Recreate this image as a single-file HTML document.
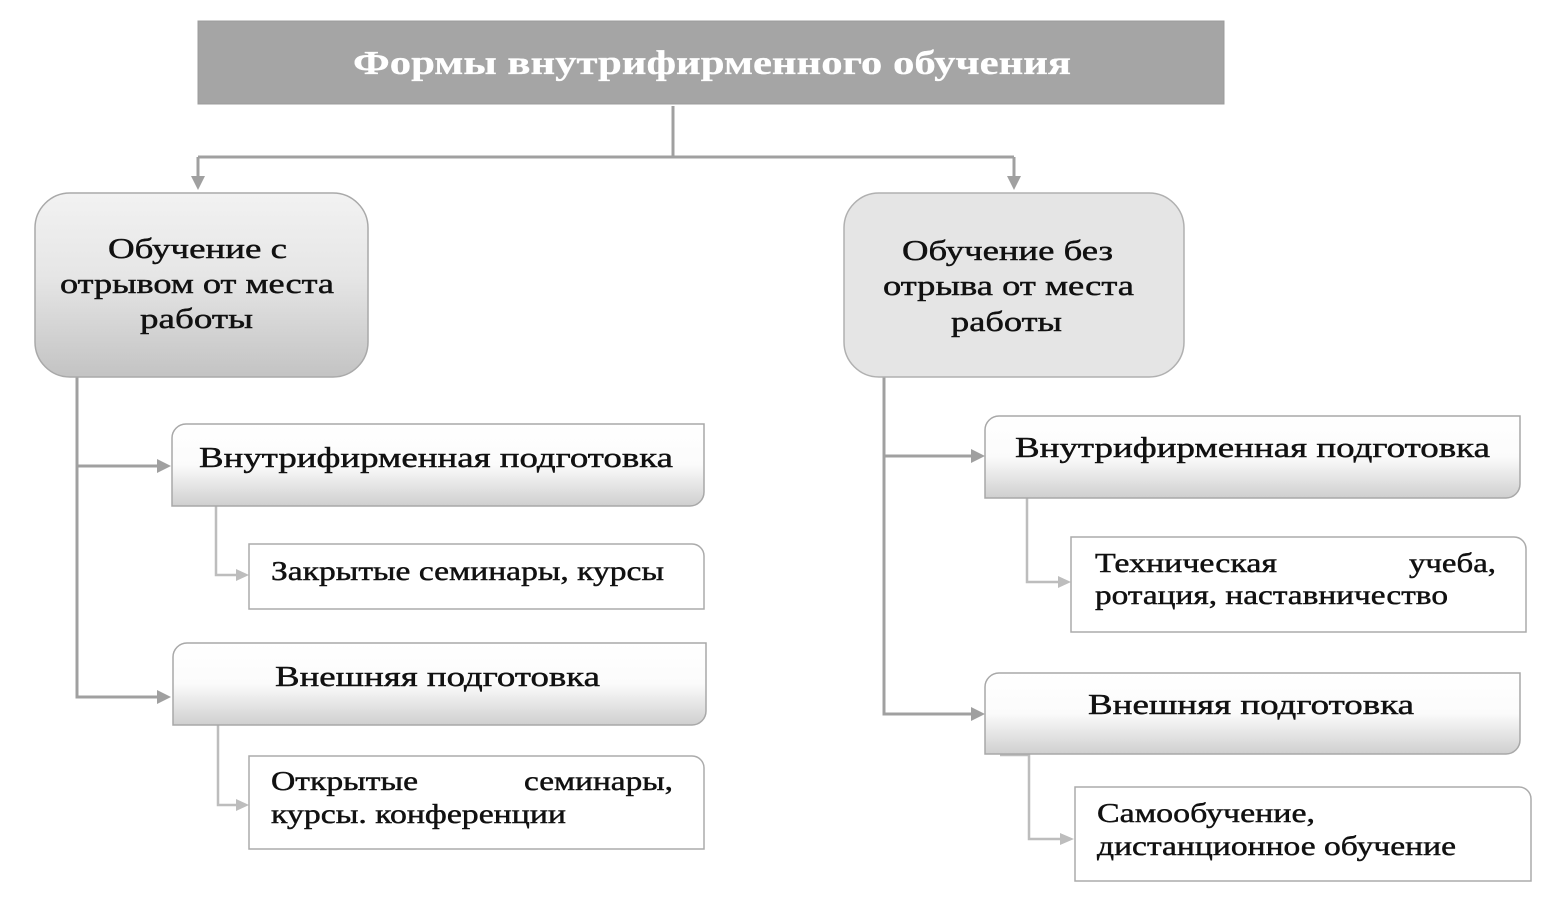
<!DOCTYPE html>
<html>
<head>
<meta charset="utf-8">
<style>
html,body{margin:0;padding:0;background:#fff;}
svg{display:block;}
text{font-family:"Liberation Serif","DejaVu Serif",serif;fill:#111;}
.t{stroke:#111;stroke-width:0.45;}
</style>
</head>
<body>
<svg width="1554" height="908" viewBox="0 0 1554 908" xmlns="http://www.w3.org/2000/svg">
<defs>
<linearGradient id="gBig" x1="0" y1="0" x2="0" y2="1">
<stop offset="0" stop-color="#f2f2f2"/>
<stop offset="0.45" stop-color="#e6e6e6"/>
<stop offset="1" stop-color="#c3c3c3"/>
</linearGradient>
<linearGradient id="gHead" x1="0" y1="0" x2="0" y2="1">
<stop offset="0" stop-color="#ffffff"/>
<stop offset="0.5" stop-color="#fbfbfb"/>
<stop offset="1" stop-color="#cfcfcf"/>
</linearGradient>
</defs>
<rect x="0" y="0" width="1554" height="908" fill="#fff"/>

<!-- Title -->
<rect x="198" y="21" width="1026" height="83" fill="#a5a5a5" stroke="#9c9c9c" stroke-width="1"/>
<text x="353" y="74" font-size="34" font-weight="bold" style="fill:#fff;stroke:#fff;stroke-width:0.3" textLength="718" lengthAdjust="spacingAndGlyphs">Формы внутрифирменного обучения</text>

<!-- main connectors -->
<g stroke="#a0a0a0" stroke-width="3" fill="none">
<path d="M673,106 V157"/>
<path d="M198,157 H1014"/>
<path d="M198,157 V178"/>
<path d="M1014,157 V178"/>
<path d="M77,377 V697 H158"/>
<path d="M77,466 H158"/>
<path d="M884,377 V714 H972"/>
<path d="M884,456 H972"/>
</g>
<g fill="#a0a0a0">
<polygon points="191,176 205,176 198,190"/>
<polygon points="1007,176 1021,176 1014,190"/>
<polygon points="157,459 157,473 171,466"/>
<polygon points="157,690 157,704 171,697"/>
<polygon points="971,449 971,463 985,456"/>
<polygon points="971,707 971,721 985,714"/>
</g>

<!-- sub connectors -->
<g stroke="#bdbdbd" stroke-width="2.5" fill="none">
<path d="M216,506 V575 H237"/>
<path d="M218,725 V805 H237"/>
<path d="M1027,498 V582 H1059"/>
<path d="M1029,754 V839 H1061"/>
<path d="M1000,755 H1029"/>
</g>
<g fill="#bdbdbd">
<polygon points="236,569 236,581 249,575"/>
<polygon points="236,799 236,811 249,805"/>
<polygon points="1058,576 1058,588 1071,582"/>
<polygon points="1060,833 1060,845 1074,839"/>
</g>

<!-- big boxes -->
<rect x="35" y="193" width="333" height="184" rx="35" ry="35" fill="url(#gBig)" stroke="#a9a9a9" stroke-width="1.5"/>
<rect x="844" y="193" width="340" height="184" rx="35" ry="35" fill="#e5e5e5" stroke="#b0b0b0" stroke-width="1.5"/>

<g font-size="28" class="t">
<text class="t" x="108" y="258" textLength="179" lengthAdjust="spacingAndGlyphs">Обучение с</text>
<text class="t" x="60" y="293" textLength="274" lengthAdjust="spacingAndGlyphs">отрывом от места</text>
<text class="t" x="140" y="328" textLength="113" lengthAdjust="spacingAndGlyphs">работы</text>
<text class="t" x="902" y="260" textLength="211" lengthAdjust="spacingAndGlyphs">Обучение без</text>
<text class="t" x="883" y="295" textLength="251" lengthAdjust="spacingAndGlyphs">отрыва от места</text>
<text class="t" x="951" y="331" textLength="111" lengthAdjust="spacingAndGlyphs">работы</text>
</g>

<!-- header boxes: rounded top-left & bottom-right -->
<g fill="url(#gHead)" stroke="#a8a8a8" stroke-width="1.5">
<path d="M186,424 H704 V492 A14,14 0 0 1 690,506 H172 V438 A14,14 0 0 1 186,424 Z"/>
<path d="M187,643 H706 V711 A14,14 0 0 1 692,725 H173 V657 A14,14 0 0 1 187,643 Z"/>
<path d="M999,416 H1520 V484 A14,14 0 0 1 1506,498 H985 V430 A14,14 0 0 1 999,416 Z"/>
<path d="M999,673 H1520 V740 A14,14 0 0 1 1506,754 H985 V687 A14,14 0 0 1 999,673 Z"/>
</g>

<!-- sub boxes: rounded top-right -->
<g fill="#fff" stroke="#ababab" stroke-width="1.5">
<path d="M249,544 H692 A12,12 0 0 1 704,556 V609 H249 Z"/>
<path d="M249,756 H692 A12,12 0 0 1 704,768 V849 H249 Z"/>
<path d="M1071,537 H1514 A12,12 0 0 1 1526,549 V632 H1071 Z"/>
<path d="M1075,787 H1519 A12,12 0 0 1 1531,799 V881 H1075 Z"/>
</g>

<g font-size="29">
<text class="t" x="199" y="467" textLength="474" lengthAdjust="spacingAndGlyphs">Внутрифирменная подготовка</text>
<text class="t" x="275" y="686" textLength="325" lengthAdjust="spacingAndGlyphs">Внешняя подготовка</text>
<text class="t" x="1015" y="457" textLength="475" lengthAdjust="spacingAndGlyphs">Внутрифирменная подготовка</text>
<text class="t" x="1088" y="714" textLength="326" lengthAdjust="spacingAndGlyphs">Внешняя подготовка</text>
</g>

<g font-size="27">
<text class="t" x="271" y="580" textLength="393" lengthAdjust="spacingAndGlyphs">Закрытые семинары, курсы</text>
<text class="t" x="271" y="790" textLength="147" lengthAdjust="spacingAndGlyphs">Открытые</text>
<text class="t" x="524" y="790" textLength="149" lengthAdjust="spacingAndGlyphs">семинары,</text>
<text class="t" x="271" y="823" textLength="295" lengthAdjust="spacingAndGlyphs">курсы. конференции</text>
<text class="t" x="1095" y="572" textLength="182" lengthAdjust="spacingAndGlyphs">Техническая</text>
<text class="t" x="1409" y="572" textLength="87" lengthAdjust="spacingAndGlyphs">учеба,</text>
<text class="t" x="1095" y="604" textLength="353" lengthAdjust="spacingAndGlyphs">ротация, наставничество</text>
<text class="t" x="1097" y="822" textLength="218" lengthAdjust="spacingAndGlyphs">Самообучение,</text>
<text class="t" x="1097" y="855" textLength="359" lengthAdjust="spacingAndGlyphs">дистанционное обучение</text>
</g>
</svg>
</body>
</html>
